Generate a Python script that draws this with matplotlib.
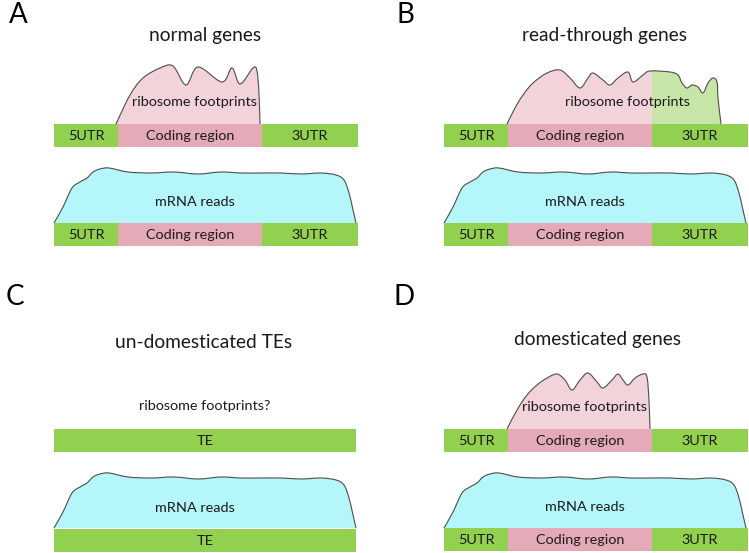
import numpy as np
import matplotlib
matplotlib.use("Agg")
import matplotlib.pyplot as plt
from matplotlib.path import Path
from matplotlib.patches import PathPatch, Rectangle

# ---------------- data ----------------
panel_letters = ["A", "B", "C", "D"]
panel_titles = ["normal genes", "read-through genes", "un-domesticated TEs", "domesticated genes"]
segment_labels = ["5UTR", "Coding region", "3UTR"]
segment_lengths = [64, 144, 96]          # gene model segment lengths
te_label = "TE"
footprint_label = "ribosome footprints"
footprint_question = "ribosome footprints?"
mrna_label = "mRNA reads"

# ribosome footprint profiles: position along gene, signal height
fp_a_pos = [62, 76, 89, 106, 119, 132, 144, 168, 178, 186, 199, 203, 205, 206]
fp_a_h = [0, 29, 46, 56, 58, 39, 57, 42, 56, 40, 56, 53, 30, 0]

fp_b_pos = [63, 71, 79, 89, 103, 116, 126, 136, 144, 149, 159, 166, 174, 184, 189, 199, 206,
            226, 234, 238, 243, 248, 254, 259, 264, 269, 273, 274, 277]
fp_b_h = [0, 16, 29, 41, 51, 54, 46, 36, 46, 51, 44, 39, 46, 52, 42, 49, 53,
          52, 49, 41, 36, 39, 37, 31, 41, 46, 42, 26, 0]

fp_d_pos = [63, 73, 83, 93, 103, 113, 121, 128, 136, 144, 153, 159, 168, 174, 179, 184, 191, 199, 203, 205, 206]
fp_d_h = [0, 19, 34, 44, 51, 55, 49, 39, 49, 56, 47, 41, 49, 55, 49, 44, 51, 55, 52, 28, 0]

# mRNA read coverage profile
mrna_pos = [0, 9, 18, 26, 33, 39, 46, 55, 74, 97, 120, 144, 167, 187, 207, 227, 247, 267, 282, 290, 295, 299, 302]
mrna_h = [0, 16, 35, 41, 45, 51, 54, 55, 51, 50, 51, 49, 51, 50, 50, 50, 49, 50, 48, 43, 30, 13, 0]

# ---------------- style / layout ----------------
GREEN = "#92d050"
PINK = "#e5aab7"
PINK_L = "#f2d3da"
GREEN_L = "#c7e5a6"
CYAN = "#b4f6f9"
EDGE = "#4d4d4d"
TXT = "#1a1a1a"
FONT = ["Lato", "DejaVu Sans"]
BAR_H = 23
FS = 10.4

# panel: (x0, top bar y, bottom bar y, letter pos, title pos)
layout = {
    "A": dict(x0=54, ytop=124, ybot=223, letter=(18, 15), title=(205, 35), label=(194, 102)),
    "B": dict(x0=444, ytop=124, ybot=223, letter=(405, 15), title=(605, 35), label=(627, 102)),
    "C": dict(x0=54, ytop=429, ybot=529, letter=(15, 297), title=(204, 342), label=(205, 406)),
    "D": dict(x0=444, ytop=429, ybot=528, letter=(404, 297), title=(597, 340), label=(584, 407)),
}

fig = plt.figure(figsize=(7.49, 5.53), dpi=100)
ax = fig.add_axes([0, 0, 1, 1])
ax.set_xlim(0, 749)
ax.set_ylim(553, 0)
ax.axis("off")


def curve(xs, ys):
    pts = np.column_stack([xs, ys]).astype(float)
    n = len(pts)
    verts = [pts[0]]
    codes = [Path.MOVETO]
    for i in range(n - 1):
        p0 = pts[max(i - 1, 0)]
        p1 = pts[i]
        p2 = pts[i + 1]
        p3 = pts[min(i + 2, n - 1)]
        c1 = p1 + (p2 - p0) / 6.0
        c2 = p2 - (p3 - p1) / 6.0
        verts += [c1, c2, p2]
        codes += [Path.CURVE4] * 3
    return verts, codes


def draw_profile(x0, ybase, pos, h, fill, clip_split=None, fill2=None):
    xs = [x0 + p for p in pos]
    ys = [ybase - v for v in h]
    verts, codes = curve(xs, ys)
    fverts = verts + [(xs[0], ybase), (xs[0], ybase)]
    fcodes = codes + [Path.LINETO, Path.CLOSEPOLY]
    if clip_split is None:
        ax.add_patch(PathPatch(Path(fverts, fcodes), facecolor=fill, edgecolor="none", zorder=2))
    else:
        p1 = PathPatch(Path(fverts, fcodes), facecolor=fill, edgecolor="none", zorder=2)
        ax.add_patch(p1)
        r1 = Rectangle((0, 0), clip_split, 553, transform=ax.transData)
        p1.set_clip_path(r1)
        p2 = PathPatch(Path(fverts, fcodes), facecolor=fill2, edgecolor="none", zorder=2)
        ax.add_patch(p2)
        r2 = Rectangle((clip_split, 0), 749 - clip_split, 553, transform=ax.transData)
        p2.set_clip_path(r2)
    ax.add_patch(PathPatch(Path(verts, codes), facecolor="none", edgecolor=EDGE, lw=0.8, zorder=3))


def draw_gene(x0, ytop):
    x = x0
    colors = [GREEN, PINK, GREEN]
    for lab, ln, c in zip(segment_labels, segment_lengths, colors):
        ax.add_patch(Rectangle((x, ytop), ln, BAR_H, facecolor=c, edgecolor="none", zorder=1))
        ax.text(x + ln / 2, ytop + BAR_H / 2 + 0.5, lab, ha="center", va="center",
                fontsize=FS, color=TXT, family=FONT, zorder=4)
        x += ln


def draw_te(x0, ytop):
    total = sum(segment_lengths) - 2
    ax.add_patch(Rectangle((x0, ytop), total, BAR_H, facecolor=GREEN, edgecolor="none", zorder=1))
    ax.text(x0 + total / 2, ytop + BAR_H / 2 + 0.5, te_label, ha="center", va="center",
            fontsize=FS, color=TXT, family=FONT, zorder=4)


for key, title in zip(panel_letters, panel_titles):
    L = layout[key]
    x0 = L["x0"]
    ax.text(*L["letter"], key, ha="center", va="center", fontsize=20, color="black", family=FONT)
    ax.text(*L["title"], title, ha="center", va="center", fontsize=13.8, color=TXT, family=FONT)
    # top track
    if key == "A":
        draw_profile(x0, L["ytop"], fp_a_pos, fp_a_h, PINK_L)
    elif key == "B":
        draw_profile(x0, L["ytop"], fp_b_pos, fp_b_h, PINK_L,
                     clip_split=x0 + segment_lengths[0] + segment_lengths[1], fill2=GREEN_L)
    elif key == "D":
        draw_profile(x0, L["ytop"], fp_d_pos, fp_d_h, PINK_L)
    if key == "C":
        draw_te(x0, L["ytop"])
        ax.text(*L["label"], footprint_question, ha="center", va="center",
                fontsize=FS, color=TXT, family=FONT, zorder=4)
        draw_profile(x0, L["ybot"] - 1, mrna_pos, mrna_h, CYAN)
        draw_te(x0, L["ybot"])
    else:
        draw_gene(x0, L["ytop"])
        ax.text(*L["label"], footprint_label, ha="center", va="center",
                fontsize=FS, color=TXT, family=FONT, zorder=4)
        draw_profile(x0, L["ybot"], mrna_pos, mrna_h, CYAN)
        draw_gene(x0, L["ybot"])
    ax.text(x0 + 141, L["ybot"] - 21, mrna_label, ha="center", va="center",
            fontsize=FS, color=TXT, family=FONT, zorder=4)

fig.savefig("out.png", dpi=100)
